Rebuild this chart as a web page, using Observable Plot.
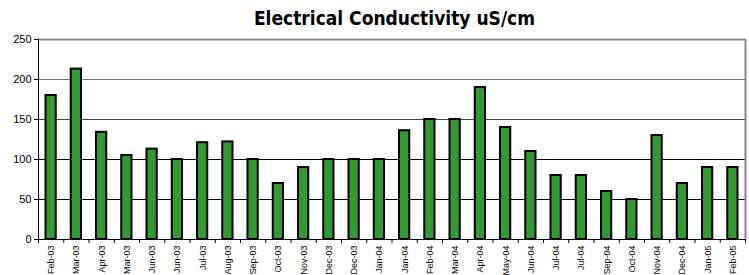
<!DOCTYPE html>
<html>
<head>
<meta charset="utf-8">
<script src="https://cdn.jsdelivr.net/npm/d3@7"></script>
<script src="https://cdn.jsdelivr.net/npm/@observablehq/plot@0.6"></script>
<style>
  body { margin: 0; background: white; }
  #title { width: 749px; height: 30px; box-sizing: border-box; padding-top: 7px; line-height: 22px; text-align: center; padding-left: 40px;
           font-family: "DejaVu Sans Condensed", "DejaVu Sans", sans-serif; font-weight: bold; font-size: 19px; color: #000; }
</style>
</head>
<body>
<div id="title">Electrical Conductivity uS/cm</div>
<div id="chart"></div>
<script>
const labels = ["Feb-03","Mar-03","Apr-03","Mar-03","Jun-03","Jun-03","Jul-03","Aug-03","Sep-03","Oct-03","Nov-03","Dec-03","Dec-03","Jan-04","Jan-04","Feb-04","Mar-04","Apr-04","May-04","Jun-04","Jul-04","Jul-04","Sep-04","Oct-04","Nov-04","Dec-04","Jan-05","Feb-05"];
const values = [180, 213, 134, 105, 113, 100, 121, 122, 100, 70, 90, 100, 100, 100, 136, 150, 150, 190, 140, 110, 80, 80, 60, 50, 130, 70, 90, 90];
const yTicks = [0, 50, 100, 150, 200, 250];

const data = labels.map((label, i) => ({i, label, value: values[i]}));
const n = labels.length;

const chart = Plot.plot({
  width: 749,
  height: 245,
  marginTop: 9,
  marginLeft: 38,
  marginRight: 4,
  marginBottom: 36,
  style: {fontFamily: "'Liberation Sans', Arial, sans-serif", fontSize: "11px", background: "white", color: "black"},
  x: {domain: [0, n], axis: null},
  y: {domain: [0, 250], axis: null},
  marks: [
    Plot.ruleY([50, 100], {stroke: "#000", strokeWidth: 1}),
    Plot.ruleY([150], {stroke: "#444", strokeWidth: 1}),
    Plot.ruleY([200], {stroke: "#777", strokeWidth: 1}),
    Plot.ruleY([250], {stroke: "#888", strokeWidth: 2}),
    Plot.ruleX([n], {stroke: "#888", strokeWidth: 2}),
    Plot.rectY(data, {x1: "i", x2: d => d.i + 1, y: "value", fill: "#339933", stroke: "black", strokeWidth: 2, insetLeft: 7.5, insetRight: 7.5}),
    Plot.ruleX([0], {stroke: "black", strokeWidth: 1}),
    Plot.ruleY([0], {stroke: "black", strokeWidth: 1}),
    Plot.axisY({ticks: yTicks, tickSize: 4, tickPadding: 3, fontSize: 11, label: null}),
    Plot.axisX({ticks: d3.range(0, n + 1), tickFormat: () => "", tickSize: 4, label: null}),
    Plot.axisX({ticks: d3.range(n).map(i => i + 0.5), tickFormat: v => labels[Math.floor(v)], tickSize: 0, tickPadding: 6, tickRotate: -90, fontSize: 9, label: null})
  ]
});
document.getElementById("chart").appendChild(chart);
</script>
</body>
</html>
